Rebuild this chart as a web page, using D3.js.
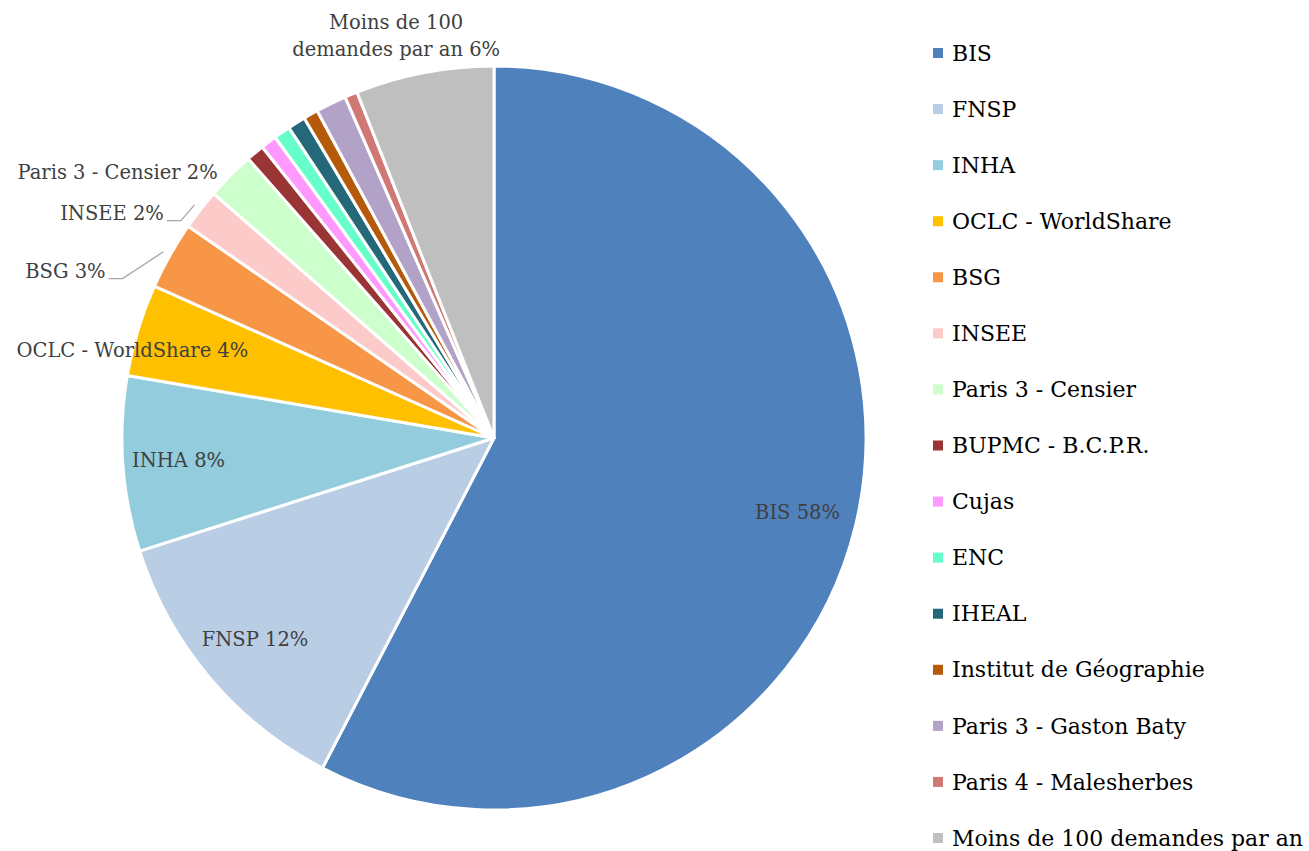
<!DOCTYPE html>
<html lang="fr">
<head>
  <meta charset="UTF-8"/>
  <title>Demandes par bibliothèque</title>
  <style>
    *{margin:0;padding:0}
    body{background:#fff;font-family:"DejaVu Serif","Liberation Serif",serif}
    svg{display:block}
    .lbl{fill:#404040;font-size:19.5px}
    .leg{fill:#000;font-size:22px}
  </style>
</head>
<body>
  <svg id="chart" width="1309" height="851"></svg>
  <script src="https://d3js.org/d3.v7.min.js"></script>
  <script>
    // libraries, in chart order (clockwise from 12 o'clock)
    const names = ['BIS','FNSP','INHA','OCLC - WorldShare','BSG','INSEE','Paris 3 - Censier',
      'BUPMC - B.C.P.R.','Cujas','ENC','IHEAL','Institut de Géographie',
      'Paris 3 - Gaston Baty','Paris 4 - Malesherbes','Moins de 100 demandes par an'];
    // share of requests, %
    const shares = [57.6,12.45,7.6,4.0,2.95,1.77,2.1,0.78,0.69,0.72,0.77,0.64,1.33,0.55,6.0];
    const colors = ['#4F81BD','#B9CDE5','#93CDDD','#FFC000','#F79646','#FDCACA','#CCFFCC',
      '#993535','#FF99FF','#66FFCC','#24687A','#B5590A','#B3A2C7','#D07874','#BFBFBF'];
    // which slices get a data label, and how it sits (radius factor, angle nudge in deg)
    const labelled = {
      'BIS':{k:.84,nudge:0,anchor:'middle'},
      'FNSP':{k:.84,nudge:0,anchor:'middle'},
      'INHA':{k:.85,nudge:0,anchor:'middle'},
      'OCLC - WorldShare':{k:1.0,nudge:-3.3,anchor:'middle'},
      'BSG':{k:1.136,nudge:-6.2,anchor:'end',leader:true},
      'INSEE':{k:1.073,nudge:-3.7,anchor:'end',leader:true},
      'Paris 3 - Censier':{k:1.03,nudge:-1.0,anchor:'end'},
      'Moins de 100 demandes par an':{k:1.11,nudge:-2.9,anchor:'middle',lines:['Moins de 100','demandes par an']}
    };

    const data = names.map((n,i)=>({name:n,value:shares[i],color:colors[i]}));
    const total = d3.sum(shares);
    const fmt = d3.format('.0%');

    const svg = d3.select('#chart');
    const cx = 494, cy = 438, R = 372;
    const g = svg.append('g').attr('transform',`translate(${cx},${cy})`);

    const pie = d3.pie().value(d=>d.value).sort(null);
    const arc = d3.arc().innerRadius(0).outerRadius(R);
    const arcs = pie(data);

    g.selectAll('path.slice')
      .data(arcs)
      .join('path')
      .attr('class','slice')
      .attr('d',arc)
      .attr('fill',d=>d.data.color)
      .attr('stroke','#fff').attr('stroke-width',3).attr('stroke-linejoin','round');

    const polar = (a,r)=>[Math.sin(a)*r, -Math.cos(a)*r];

    arcs.forEach(d=>{
      const o = labelled[d.data.name];
      if(!o) return;
      const mid = (d.startAngle+d.endAngle)/2;
      const [x,y] = polar(mid + o.nudge*Math.PI/180, R*o.k);
      const pct = fmt(d.data.value/total);
      const t = g.append('text').attr('class','lbl')
        .attr('text-anchor',o.anchor)
        .attr('x',x).attr('y',y);
      if(o.lines){
        t.append('tspan').attr('x',x).attr('dy','-0.4em').text(o.lines[0]);
        t.append('tspan').attr('x',x).attr('dy','1.4em').text(o.lines[1]+' '+pct);
      } else {
        t.attr('dy','0.35em').text(d.data.name+' '+pct);
      }
      if(o.leader){
        const [ex,ey] = polar(mid, R*1.02);
        g.append('path')
          .attr('d',d3.line()([[x+3,y+7],[x+17,y+7],[ex,ey]]))
          .attr('fill','none').attr('stroke','#a6a6a6').attr('stroke-width',1.3);
      }
    });

    // legend
    const ly = d3.scalePoint().domain(names).range([53,838]);
    const leg = svg.append('g').selectAll('g').data(data).join('g')
      .attr('transform',d=>`translate(933,${ly(d.name)})`);
    leg.append('rect').attr('x',0).attr('y',-5).attr('width',10).attr('height',10).attr('fill',d=>d.color);
    leg.append('text').attr('class','leg').attr('x',19).attr('dy','0.35em').text(d=>d.name);
  </script>
</body>
</html>
